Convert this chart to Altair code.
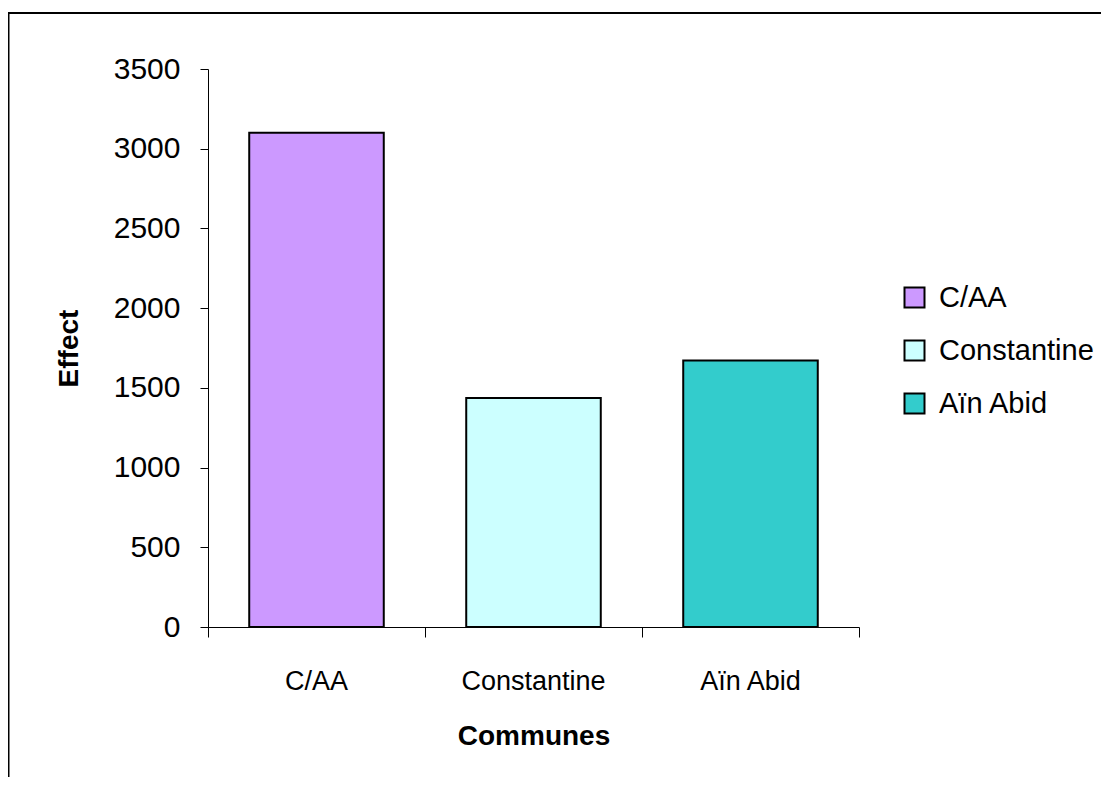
import altair as alt
import pandas as pd

communes = ["C/AA", "Constantine", "Aïn Abid"]
effect = [3100, 1437, 1672]
colors = ["#CC99FF", "#CCFFFF", "#33CCCC"]
y_ticks = [0, 500, 1000, 1500, 2000, 2500, 3000, 3500]

df = pd.DataFrame({"commune": communes, "effect": effect})

FONT = "Arial, Liberation Sans, sans-serif"

bars = alt.Chart(df).mark_bar(
    width=alt.RelativeBandSize(0.62), stroke="black", strokeWidth=2
).encode(
    x=alt.X(
        "commune:N",
        sort=communes,
        scale=alt.Scale(paddingInner=0, paddingOuter=0),
        axis=alt.Axis(
            title="Communes",
            labelAngle=0,
            bandPosition=1,
            tickExtra=True,
            tickSize=10,
            tickColor="black",
            domainColor="black",
            labelPadding=31,
            labelFontSize=27,
            labelFont=FONT,
            labelColor="black",
            titleFont=FONT,
            titleFontSize=28,
            titleFontWeight="bold",
            titleColor="black",
            titlePadding=28,
            grid=False,
        ),
    ),
    y=alt.Y(
        "effect:Q",
        scale=alt.Scale(domain=[0, 3500], nice=False),
        axis=alt.Axis(
            title="Effect",
            values=y_ticks,
            format="d",
            tickSize=8,
            tickColor="black",
            domainColor="black",
            labelPadding=20,
            labelFontSize=30,
            labelFont=FONT,
            labelColor="black",
            titleFont=FONT,
            titleFontSize=28,
            titleFontWeight="bold",
            titleColor="black",
            titlePadding=30,
            grid=False,
        ),
    ),
    color=alt.Color(
        "commune:N",
        sort=communes,
        scale=alt.Scale(domain=communes, range=colors),
        legend=alt.Legend(
            title=None,
            orient="none",
            legendX=692,
            legendY=214,
            padding=0,
            symbolType="square",
            symbolSize=400,
            symbolStrokeColor="black",
            symbolStrokeWidth=2,
            labelFontSize=29,
            labelFont=FONT,
            labelColor="black",
            labelOffset=10,
            labelLimit=0,
            rowPadding=23,
        ),
    ),
)

frame_data = alt.Data(values=[{}])
top_line = alt.Chart(frame_data).mark_rule(color="black", strokeWidth=2).encode(
    x=alt.value(-200), x2=alt.value(900), y=alt.value(-56)
)
left_line = alt.Chart(frame_data).mark_rule(color="black", strokeWidth=2).encode(
    x=alt.value(-199.5), y=alt.value(-56), y2=alt.value(800)
)

chart = alt.layer(bars, top_line, left_line).properties(
    width=651,
    height=558,
    autosize=alt.AutoSizeParams(type="none"),
    padding={"left": 200, "top": 61, "right": 242, "bottom": 150},
).configure_view(stroke=None)

chart.save("out.html", embed_options={"renderer": "svg", "actions": False})
